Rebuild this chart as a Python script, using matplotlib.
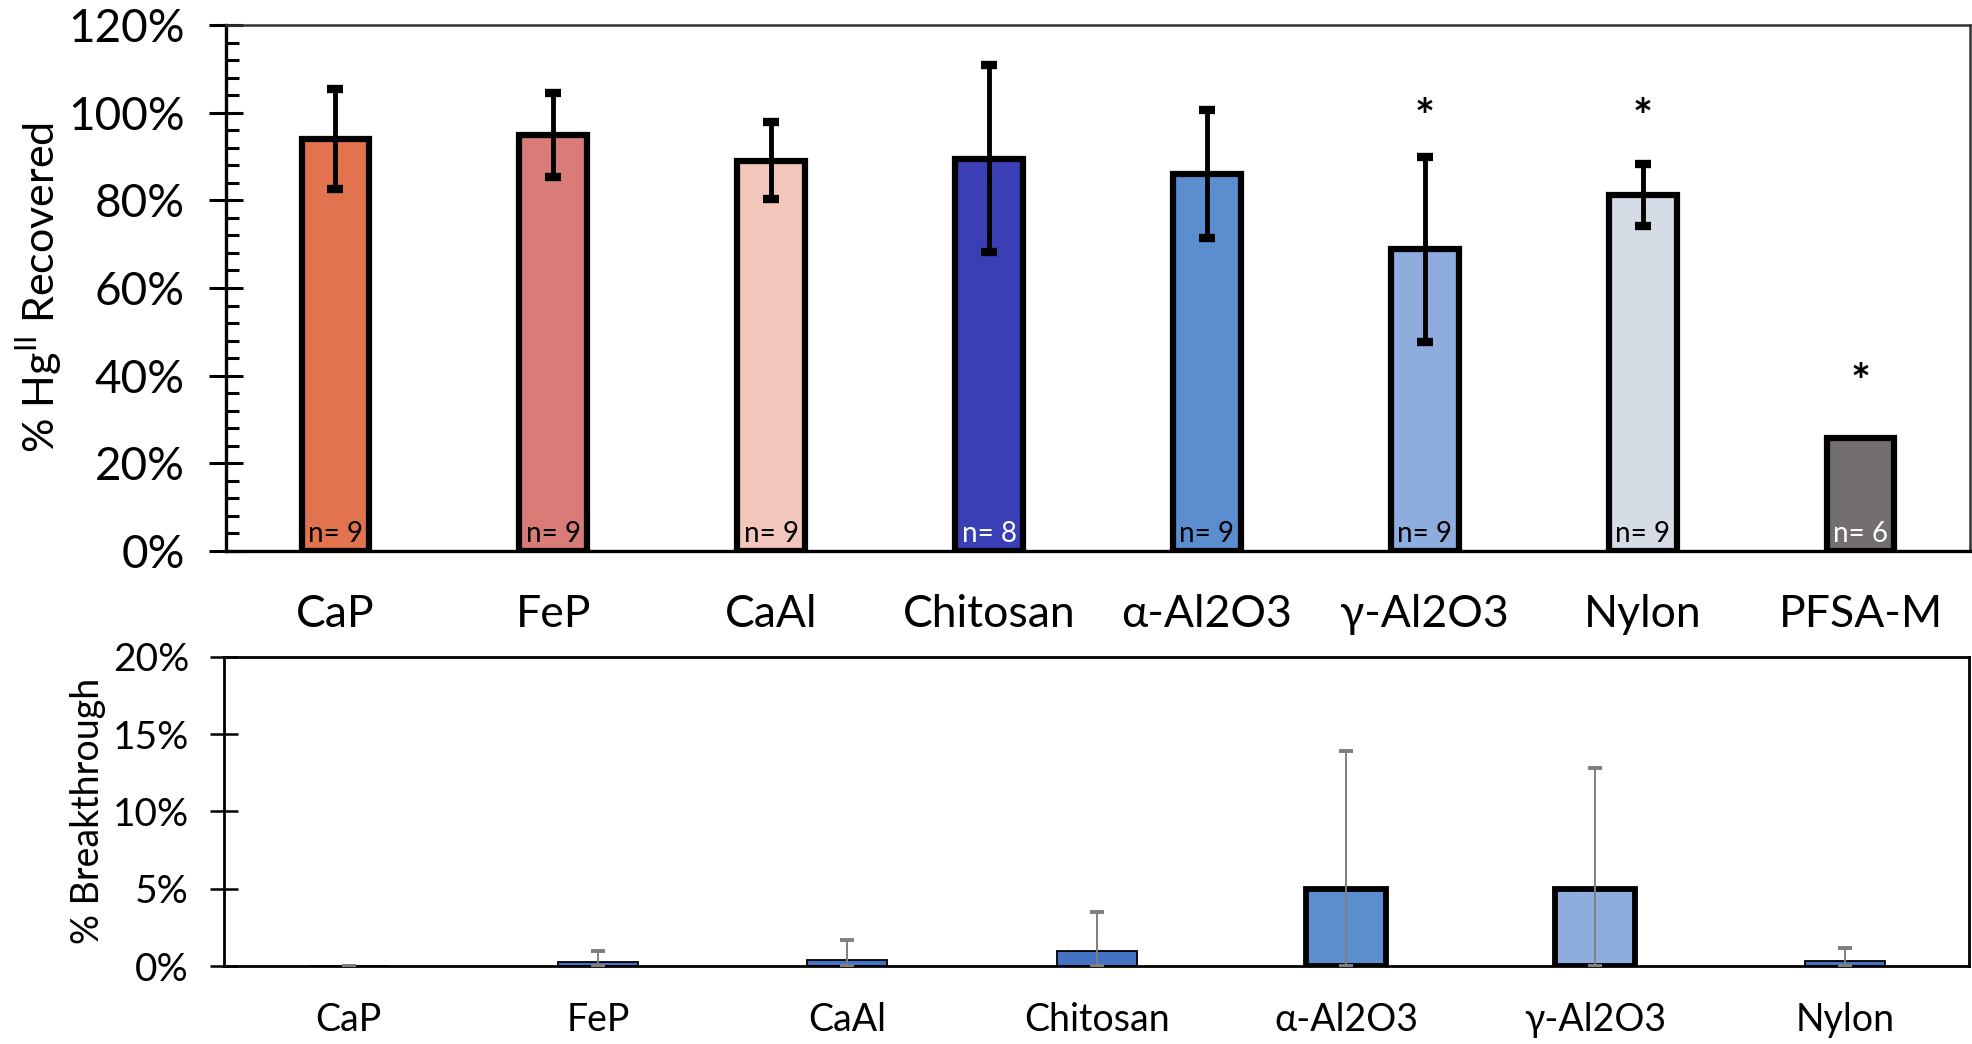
import matplotlib
matplotlib.use("Agg")
import matplotlib.pyplot as plt
import numpy as np
from matplotlib.ticker import MultipleLocator, FuncFormatter

# ---- data ----
top_categories = ["CaP", "FeP", "CaAl", "Chitosan", "α-Al2O3", "γ-Al2O3", "Nylon", "PFSA-M"]
top_values = [94, 95, 89, 89.5, 86, 68.8, 81.2, 25.8]
top_errors = [11.5, 9.6, 8.8, 21.4, 14.6, 21.1, 7.0, 0]
top_colors = ["#E2734F", "#D97B76", "#F2C6BA", "#3A3FB5", "#5A8ECF", "#8FACDF", "#D5DCE6", "#736F6E"]
n_labels = ["n= 9", "n= 9", "n= 9", "n= 8", "n= 9", "n= 9", "n= 9", "n= 6"]
n_colors = ["black", "black", "black", "white", "black", "black", "black", "white"]
star_y = [None, None, None, None, None, 98.5, 98.5, 38.0]

bot_categories = ["CaP", "FeP", "CaAl", "Chitosan", "α-Al2O3", "γ-Al2O3", "Nylon"]
bot_values = [0.0, 0.25, 0.4, 1.0, 5.0, 5.0, 0.3]
bot_err_up = [0.0, 0.75, 1.3, 2.5, 8.9, 7.8, 0.85]
bot_colors = ["#4472C4", "#4472C4", "#4472C4", "#4472C4", "#5A8ECF", "#8FACDF", "#4472C4"]
bot_edge_w = [1.3, 1.3, 1.3, 1.3, 4.2, 4.2, 1.3]

FONT = ["Lato", "DejaVu Sans"]
plt.rcParams["font.family"] = FONT

fig = plt.figure(figsize=(19.72, 10.44), dpi=100)

# ---- top chart ----
ax = fig.add_axes([0.1148, 0.4723, 0.884, 0.5037])
x = np.arange(len(top_categories))
ax.bar(x, top_values, width=0.31, color=top_colors, edgecolor="black", linewidth=4.5, zorder=2)
for i, (v, e) in enumerate(zip(top_values, top_errors)):
    if e > 0:
        ax.errorbar(x[i], v, yerr=e, fmt="none", ecolor="black", elinewidth=3.5,
                    capsize=6, capthick=6, zorder=3)
for i, (lab, c) in enumerate(zip(n_labels, n_colors)):
    ax.text(x[i], 0.8, lab, ha="center", va="bottom", fontsize=20, color=c, zorder=4)
for i, sy in enumerate(star_y):
    if sy is not None:
        ax.text(x[i], sy, "*", ha="center", va="center", fontsize=34, fontweight="bold", color="black")

ax.set_xlim(-0.5, len(top_categories) - 0.5)
ax.set_ylim(0, 120)
ax.yaxis.set_major_locator(MultipleLocator(20))
ax.yaxis.set_minor_locator(MultipleLocator(4))
ax.yaxis.set_major_formatter(FuncFormatter(lambda v, p: f"{v:.0f}%"))
ax.tick_params(axis="y", which="major", direction="inout", length=24, width=2.2, labelsize=33, pad=18)
ax.tick_params(axis="y", which="minor", direction="in", length=9, width=2.2)
ax.set_xticks(x)
ax.set_xticklabels(top_categories, fontsize=32)
ax.tick_params(axis="x", length=0, pad=31)
for sp in ["left", "bottom"]:
    ax.spines[sp].set_linewidth(2.4)
    ax.spines[sp].set_color("black")
for sp in ["top", "right"]:
    ax.spines[sp].set_linewidth(1.8)
    ax.spines[sp].set_color("#333333")
ax.set_ylabel("% Hg$^{\\mathregular{II}}$ Recovered", fontsize=31, labelpad=3)

# ---- bottom chart ----
bx = fig.add_axes([0.1135, 0.0747, 0.8852, 0.2963])
xb = np.arange(len(bot_categories))
bx.bar(xb, bot_values, width=0.32, color=bot_colors, edgecolor="black", linewidth=bot_edge_w, zorder=2)
bx.errorbar(xb, bot_values, yerr=[bot_values, bot_err_up], fmt="none", ecolor="#7F7F7F",
            elinewidth=1.4, capsize=5, capthick=2.8, zorder=3)
bx.set_xlim(-0.5, len(bot_categories) - 0.5)
bx.set_ylim(0, 20)
bx.yaxis.set_major_locator(MultipleLocator(5))
bx.yaxis.set_major_formatter(FuncFormatter(lambda v, p: f"{v:.0f}%"))
bx.tick_params(axis="y", which="major", direction="inout", length=20, width=1.8, labelsize=28, pad=15)
bx.set_xticks(xb)
bx.set_xticklabels(bot_categories, fontsize=27)
bx.tick_params(axis="x", length=0, pad=26)
for sp in ["left", "bottom", "top", "right"]:
    bx.spines[sp].set_linewidth(2.0)
    bx.spines[sp].set_color("black")
bx.set_ylabel("% Breakthrough", fontsize=27, labelpad=5)

fig.savefig("out.png", dpi=100)
